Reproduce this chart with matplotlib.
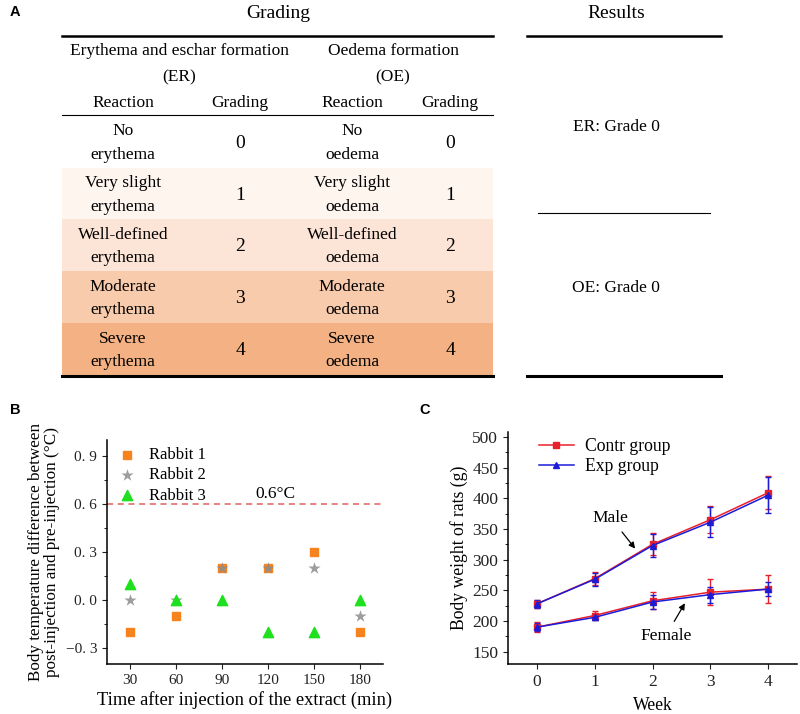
import matplotlib
matplotlib.use("Agg")
import matplotlib.pyplot as plt
from matplotlib.ticker import MultipleLocator

plt.rcParams['font.family'] = ['Liberation Serif', 'DejaVu Serif']

# ---- panel A: grading table ----
er_reaction = ['No\nerythema', 'Very slight\nerythema', 'Well-defined\nerythema',
               'Moderate\nerythema', 'Severe\nerythema']
oe_reaction = ['No\noedema', 'Very slight\noedema', 'Well-defined\noedema',
               'Moderate\noedema', 'Severe\noedema']
grades = ['0', '1', '2', '3', '4']
row_colors = ['#FFFFFF', '#FEF5EF', '#FCE4D6', '#F8CBAD', '#F4B183']
results = ['ER: Grade 0', 'OE: Grade 0']

# ---- panel B: body temperature ----
times = [30, 60, 90, 120, 150, 180]
rabbit1 = [-0.2, -0.1, 0.2, 0.2, 0.3, -0.2]
rabbit2 = [0.0, 0.0, 0.2, 0.2, 0.2, -0.1]
rabbit3 = [0.1, 0.0, 0.0, -0.2, -0.2, 0.0]
threshold = 0.6

# ---- panel C: body weight ----
weeks = [0, 1, 2, 3, 4]
male_contr = [228, 269, 325, 365, 409]
male_contr_err = [7, 11, 18, 22, 27]
male_exp = [228, 268, 323, 361, 405]
male_exp_err = [7, 11, 18, 24, 29]
female_contr = [190, 209, 233, 247, 252]
female_contr_err = [8, 8, 14, 21, 23]
female_exp = [190, 206, 231, 243, 252]
female_exp_err = [6, 5, 11, 13, 12]

fig = plt.figure(figsize=(8, 7.14), dpi=100)

# panel A drawn in pixel-like coordinates
axa = fig.add_axes([0, 1 - 382 / 714, 1, 382 / 714])
axa.set_xlim(0, 800)
axa.set_ylim(382, 0)
axa.axis('off')

fs = 12.5
tx_l, tx_r = 62, 493
row_edges = [115, 168, 219, 271, 323, 375]
col_x = [123, 240, 352, 450]

axa.text(10, 12, 'A', family='Liberation Sans', weight='bold', fontsize=10.5, va='center')
axa.text(278, 14, 'Grading', fontsize=14, ha='center', va='center')
axa.text(616, 14, 'Results', fontsize=14, ha='center', va='center')
axa.plot([tx_l, tx_r], [36, 36], color='black', lw=1.8)
axa.plot([527, 721], [36, 36], color='black', lw=1.8)
axa.text(179, 51, 'Erythema and eschar formation', fontsize=fs, ha='center', va='center')
axa.text(179, 77, '(ER)', fontsize=fs, ha='center', va='center')
axa.text(393, 51, 'Oedema formation', fontsize=fs, ha='center', va='center')
axa.text(393, 77, '(OE)', fontsize=fs, ha='center', va='center')
for x, lab in zip(col_x, ['Reaction', 'Grading', 'Reaction', 'Grading']):
    axa.text(x, 103, lab, fontsize=fs, ha='center', va='center')
axa.plot([tx_l, tx_r], [115, 115], color='black', lw=0.8)

for i in range(len(grades)):
    y0, y1 = row_edges[i], row_edges[i + 1]
    axa.fill_between([tx_l, tx_r], y0, y1, color=row_colors[i], lw=0)
    yc = (y0 + y1) / 2 + 1.5
    axa.text(col_x[0], yc, er_reaction[i], fontsize=fs, ha='center', va='center', linespacing=1.66)
    axa.text(col_x[1], yc, grades[i], fontsize=14, ha='center', va='center')
    axa.text(col_x[2], yc, oe_reaction[i], fontsize=fs, ha='center', va='center', linespacing=1.66)
    axa.text(col_x[3], yc, grades[i], fontsize=14, ha='center', va='center')
axa.plot([tx_l, tx_r], [376, 376], color='black', lw=2.2)

axa.text(616, 127, results[0], fontsize=fs, ha='center', va='center')
axa.plot([538, 710], [213, 213], color='black', lw=0.8)
axa.text(616, 288, results[1], fontsize=fs, ha='center', va='center')
axa.plot([527, 721], [376, 376], color='black', lw=2.2)

# panel B
axb = fig.add_axes([107 / 800, 1 - 664 / 714, 276 / 800, 224 / 714])
axb.scatter(times, rabbit1, marker='s', s=38, color='#F7831E', label='Rabbit 1', zorder=3)
axb.scatter(times, rabbit2, marker='*', s=85, color='#8C8C8C', alpha=0.85, label='Rabbit 2', zorder=4, lw=0)
axb.scatter(times, rabbit3, marker='^', s=55, color='#1EE01E', label='Rabbit 3', zorder=5)
axb.axhline(threshold, color='#E06060', ls=(0, (4, 3)), lw=1.1)
axb.text(125, threshold + 0.01, '0.6°C', fontsize=12.5, ha='center', va='bottom')
axb.set_xlim(15, 195)
axb.set_ylim(-0.4, 1.0)
axb.set_xticks(times)
axb.set_yticks([-0.3, 0.0, 0.3, 0.6, 0.9])
axb.set_yticklabels(['−0. 3', '0. 0', '0. 3', '0. 6', '0. 9'])
axb.yaxis.set_minor_locator(MultipleLocator(0.15))
axb.set_xlabel('Time after injection of the extract (min)', fontsize=13.3, labelpad=3)
axb.set_ylabel('Body temperature difference between\npost-injection and pre-injection (°C)',
               fontsize=12.3, labelpad=4, linespacing=1.05)
axb.legend(loc='upper left', frameon=False, fontsize=12, handletextpad=0.3,
           labelspacing=0.25, borderaxespad=0.3, bbox_to_anchor=(-0.03, 1.02))
fig.text(10 / 800, 1 - 410 / 714, 'B', family='Liberation Sans', weight='bold', fontsize=10.5, va='center')

# panel C
axc = fig.add_axes([508 / 800, 1 - 664 / 714, 289 / 800, 232 / 714])
red = '#E8202A'
blue = '#1C1CD8'
ekw = dict(fmt='none', capsize=2.5, capthick=1, elinewidth=1)
axc.errorbar(weeks, male_contr, yerr=male_contr_err, ecolor=red, **ekw)
axc.errorbar(weeks, female_contr, yerr=female_contr_err, ecolor=red, **ekw)
axc.errorbar(weeks, male_exp, yerr=male_exp_err, ecolor=blue, **ekw)
axc.errorbar(weeks, female_exp, yerr=female_exp_err, ecolor=blue, **ekw)
axc.plot(weeks, male_contr, color=red, marker='s', ms=4.5, lw=1.1, label='Contr group')
axc.plot(weeks, female_contr, color=red, marker='s', ms=4.5, lw=1.1)
axc.plot(weeks, male_exp, color=blue, marker='^', ms=4.5, lw=1.1, label='Exp group')
axc.plot(weeks, female_exp, color=blue, marker='^', ms=4.5, lw=1.1)
axc.annotate('Male', xy=(1.7, 318), xytext=(1.28, 368), fontsize=12.5, ha='center', va='center',
             arrowprops=dict(arrowstyle='-|>', color='black', lw=0.9, mutation_scale=9, shrinkA=3, shrinkB=0))
axc.annotate('Female', xy=(2.56, 229), xytext=(2.23, 176), fontsize=12.5, ha='center', va='center',
             arrowprops=dict(arrowstyle='-|>', color='black', lw=0.9, mutation_scale=9, shrinkA=3, shrinkB=0))
axc.set_xlim(-0.5, 4.5)
axc.set_ylim(130, 508)
axc.set_xticks(weeks)
axc.set_yticks([150, 200, 250, 300, 350, 400, 450, 500])
axc.yaxis.set_minor_locator(MultipleLocator(25))
axc.set_xlabel('Week', fontsize=12.7, labelpad=5)
axc.set_ylabel('Body weight of rats (g)', fontsize=12.7, labelpad=3)
axc.legend(loc='upper left', frameon=False, fontsize=12.7, handlelength=2.0, handletextpad=0.6,
           labelspacing=0.2, borderaxespad=0.2, bbox_to_anchor=(0.07, 1.02))
fig.text(419 / 800, 1 - 410 / 714, 'C', family='Liberation Sans', weight='bold', fontsize=10.5, va='center')

for ax in (axb, axc):
    for side in ('top', 'right'):
        ax.spines[side].set_visible(False)
    ax.spines['left'].set_linewidth(1.1)
    ax.spines['bottom'].set_linewidth(1.1)
    ax.tick_params(which='major', direction='out', length=3.5, colors='#222222')
    ax.tick_params(which='minor', direction='out', length=2)
    ax.tick_params(axis='x', which='minor', bottom=False)
axb.tick_params(which='major', labelsize=11)
axc.tick_params(which='major', labelsize=12.5)

fig.savefig('out.png', dpi=100)
